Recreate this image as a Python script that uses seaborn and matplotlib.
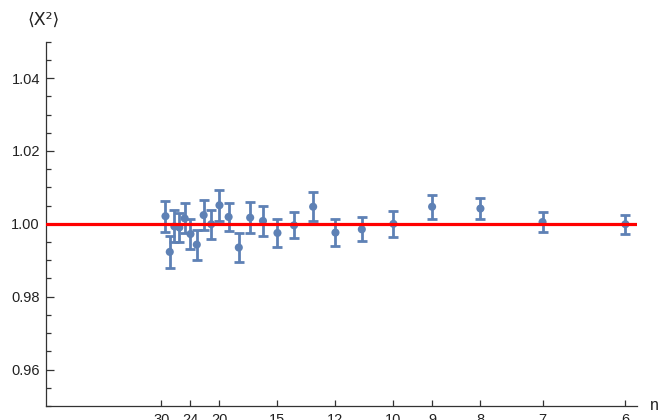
import numpy as np
import matplotlib
matplotlib.use('Agg')
import matplotlib.pyplot as plt
from matplotlib.ticker import MultipleLocator, FixedLocator, FixedFormatter
import seaborn as sns
import pandas as pd

# values
n_vals = [29, 28, 27, 26, 25, 24, 23, 22, 21, 20, 19, 18,
          17, 16, 15, 14, 13, 12, 11, 10, 9, 8, 7, 6]
x2_mean = [1.0021, 0.9923, 0.9993, 0.9990, 1.0015, 0.9972, 0.9943, 1.0024,
           0.9999, 1.0051, 1.0019, 0.9935, 1.0017, 1.0008, 0.9975, 0.9996,
           1.0047, 0.9976, 0.9985, 1.0000, 1.0047, 1.0042, 1.0005, 0.9999]
x2_err = [0.0043, 0.0043, 0.0044, 0.0041, 0.0041, 0.0042, 0.0041, 0.0042,
          0.0040, 0.0043, 0.0039, 0.0040, 0.0043, 0.0040, 0.0038, 0.0036,
          0.0040, 0.0036, 0.0033, 0.0036, 0.0033, 0.0030, 0.0028, 0.0026]
tick_n = [30, 24, 20, 15, 12, 10, 9, 8, 7, 6]

df = pd.DataFrame({'inv_n': 1.0 / np.array(n_vals), 'x2': x2_mean, 'err': x2_err})

sns.set_style('ticks')
plt.rcParams['font.family'] = ['Liberation Sans', 'DejaVu Sans']

blue = '#5E81B5'
fig = plt.figure(figsize=(6.62, 4.20), dpi=100)
ax = fig.add_axes([45.5 / 662, 14 / 420, (637 - 45.5) / 662, (406 - 41.7) / 420])

ax.errorbar(df['inv_n'], df['x2'], yerr=df['err'], fmt='none', ecolor=blue,
            elinewidth=2.0, capsize=3.6, capthick=2.0, zorder=2)
sns.scatterplot(data=df, x='inv_n', y='x2', ax=ax, color=blue, s=34,
                edgecolor='none', zorder=3)
ax.axhline(1.0, color='#FF0000', lw=2.3, zorder=4)

ax.set_xlim(0, 0.17)
ax.set_ylim(0.95, 1.05)
ax.xaxis.set_major_locator(FixedLocator([1.0 / t for t in tick_n]))
ax.xaxis.set_major_formatter(FixedFormatter([str(t) for t in tick_n]))
ax.yaxis.set_major_locator(MultipleLocator(0.02))
ax.yaxis.set_minor_locator(MultipleLocator(0.005))
ax.yaxis.set_major_formatter(matplotlib.ticker.FormatStrFormatter('%.2f'))

ax.tick_params(axis='both', which='both', direction='in', colors='#333333',
               labelcolor='#222222', labelsize=10.5, width=0.9)
ax.tick_params(axis='y', which='major', length=6, pad=4)
ax.tick_params(axis='y', which='minor', length=3.5)
ax.tick_params(axis='x', which='major', length=4.5, pad=5)

sns.despine(ax=ax)
for s in ['left', 'bottom']:
    ax.spines[s].set_color('#333333')
    ax.spines[s].set_linewidth(0.9)

ax.set_xlabel('')
ax.set_ylabel('')
fig.text(44 / 662, 1 - 20 / 420, '⟨X²⟩', ha='center', va='center', fontsize=12.5,
         color='#222222', family=['DejaVu Sans'])
fig.text(650 / 662, 1 - 406 / 420, 'n', ha='left', va='center', fontsize=11.5,
         color='#222222')

fig.savefig('out.png', dpi=100)
